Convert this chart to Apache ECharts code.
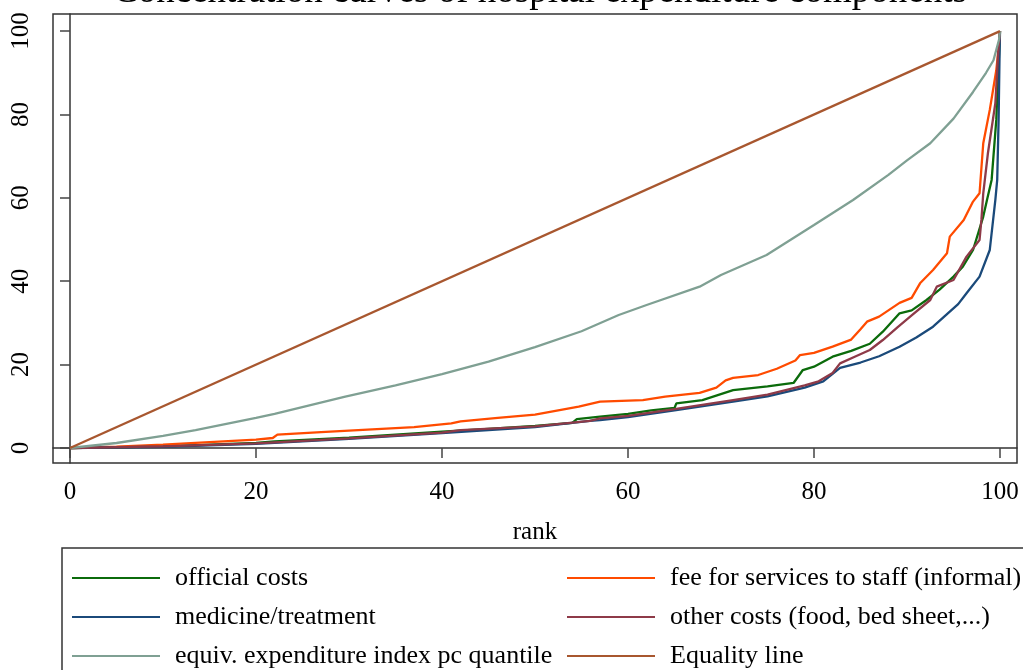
<!DOCTYPE html>
<html>
<head>
<meta charset="utf-8">
<script src="https://cdn.jsdelivr.net/npm/echarts@6/dist/echarts.min.js"></script>
<style>html,body{margin:0;padding:0;background:#fff;}#c{width:1023px;height:670px;}</style>
</head>
<body>
<div id="c"></div>
<script>
const titleText = "Concentration curves of hospital expenditure components";
const xName = "rank";
const tickValues = [0, 20, 40, 60, 80, 100];
const seriesNames = ["official costs", "fee for services to staff (informal)", "medicine/treatment",
  "other costs (food, bed sheet,...)", "equiv. expenditure index pc quantile", "Equality line"];

const officialCosts = [[0,0],[10,0.4],[20,1.2],[22,1.6],[30,2.5],[40,3.9],[45,4.6],[50,5.3],[54,6.0],[54.5,6.9],[57,7.5],[60,8.2],[62.5,9.0],[65,9.6],[65.2,10.7],[68,11.5],[71.3,13.9],[75,14.8],[77.8,15.6],[78.8,18.7],[80,19.5],[82,21.9],[84,23.3],[86,25],[87.4,27.9],[89.2,32.3],[90.5,33],[92.1,35.5],[93.5,38],[95,41.1],[96,43.5],[97.1,47.5],[98.2,55.5],[98.6,59.5],[99.1,64.3],[99.6,78.7],[99.9,94.6],[100,100]];
const feeInformal = [[0,0],[5,0.3],[10,0.8],[15,1.4],[20,2.0],[21.8,2.4],[22.3,3.2],[27,3.8],[32,4.4],[37,5.0],[41,5.9],[42,6.4],[46,7.2],[50,8.0],[54.7,9.9],[57,11.1],[61.6,11.5],[64,12.3],[67.7,13.2],[69.5,14.5],[70.5,16.2],[71.3,16.8],[74,17.5],[76,19],[78,21],[78.5,22.3],[80,22.8],[82,24.3],[84,26],[85,28.5],[85.7,30.3],[87,31.5],[89.2,34.8],[90.5,36],[91.4,39.5],[92.8,42.7],[94.3,46.7],[94.6,50.7],[96.1,54.7],[97.1,59.1],[97.8,61.1],[98.2,73.1],[98.9,81.1],[99.6,90.6],[99.9,97],[100,100]];
const medicineTreatment = [[0,0],[10,0.3],[20,1.0],[30,2.2],[40,3.6],[50,5.0],[55.9,6.5],[57,6.7],[60,7.4],[65,9.0],[71.3,11.1],[75,12.4],[79,14.5],[81,16],[82.8,19.2],[85,20.5],[87,22],[89.2,24.3],[91,26.5],[92.8,29.1],[94,31.5],[95.5,34.5],[96.4,37.1],[97.8,41.1],[98.9,47.5],[99.5,59.5],[99.7,64.3],[99.85,78.7],[99.95,94],[100,100]];
const otherCosts = [[0,0],[10,0.4],[20,1.1],[30,2.3],[40,3.7],[42,4.3],[50,5.2],[55.9,6.5],[57,7.1],[60,7.7],[65,9.3],[71.3,11.5],[75,12.8],[79,15],[80.5,16],[82,18],[82.8,20.3],[84.5,22],[86,23.5],[87.4,25.9],[89,29],[90.5,31.8],[92.5,35.5],[93.2,38.7],[95,40.3],[96.4,45.9],[97.8,49.9],[98.0,54.7],[98.2,61.1],[98.7,70.7],[99.5,82.7],[99.8,94.6],[100,100]];
const equivIndex = [[0,0],[5,1.2],[10,2.9],[13.5,4.3],[20,7.2],[22,8.2],[29.6,12.3],[35,15],[40,17.7],[45,20.7],[50,24.2],[55,28],[59,31.9],[62,34.3],[67.7,38.7],[70,41.5],[74.9,46.3],[80,53.5],[84.2,59.5],[88,65.5],[90,69],[92.5,73.1],[95,79],[97.1,85.4],[98.5,90],[99.3,93],[99.9,98],[100,100]];
const equalityLine = [[0,0],[100,100]];

const colors = ["#0b6b0b", "#ff4b00", "#1b4a7a", "#8e3a48", "#7fa093", "#a8572f"];
const dataSets = [officialCosts, feeInformal, medicineTreatment, otherCosts, equivIndex, equalityLine];

const serif = "Liberation Serif";
const chart = echarts.init(document.getElementById('c'), null, {renderer: 'canvas'});
const legendCommon = {
  orient: 'vertical', icon: 'rect', itemWidth: 88, itemHeight: 2, itemGap: 11,
  width: 460, height: 200, padding: 0,
  textStyle: {fontFamily: serif, fontSize: 26, color: '#000', lineHeight: 28, padding: [0,0,0,10]},
  selectedMode: false
};
chart.setOption({
  animation: false,
  backgroundColor: '#fff',
  title: {
    text: titleText, left: 535, textAlign: 'center', top: -31,
    textStyle: {fontFamily: serif, fontSize: 37, fontWeight: 'normal', color: '#000'}
  },
  grid: {left: 53, right: 6, top: 14, bottom: 207, show: true, borderColor: '#333', borderWidth: 1.5, backgroundColor: '#fff'},
  legend: [
    Object.assign({left: 72, top: 564, data: [seriesNames[0], seriesNames[2], seriesNames[4]]}, legendCommon),
    Object.assign({left: 567, top: 564, data: [seriesNames[1], seriesNames[3], seriesNames[5]]}, legendCommon)
  ],
  graphic: [{
    type: 'rect', shape: {x: 62, y: 548, width: 1000, height: 200},
    style: {fill: 'none', stroke: '#333', lineWidth: 1.5}, z: 100
  }],
  xAxis: {
    type: 'value', min: -1.828, max: 101.828,
    name: xName, nameLocation: 'middle', nameGap: 57,
    nameTextStyle: {fontFamily: serif, fontSize: 25, color: '#000'},
    axisLine: {show: true, lineStyle: {color: '#333', width: 1.5}},
    axisTick: {show: true, length: 10, customValues: tickValues, lineStyle: {color: '#444', width: 1.5}},
    axisLabel: {customValues: tickValues, margin: 17, fontFamily: serif, fontSize: 25, color: '#000'},
    splitLine: {show: false}
  },
  yAxis: {
    type: 'value', min: -3.6, max: 104.1,
    axisLine: {show: true, lineStyle: {color: '#333', width: 1.5}},
    axisTick: {show: true, length: 10, customValues: tickValues, lineStyle: {color: '#444', width: 1.5}},
    axisLabel: {customValues: tickValues, rotate: 90, margin: 19, fontFamily: serif, fontSize: 25, color: '#000'},
    splitLine: {show: false}
  },
  series: dataSets.map((d, i) => ({
    name: seriesNames[i], type: 'line', data: d, showSymbol: false, symbol: 'none',
    color: colors[i], lineStyle: {color: colors[i], width: 2.3}, z: 2 + i
  }))
});
</script>
</body>
</html>
